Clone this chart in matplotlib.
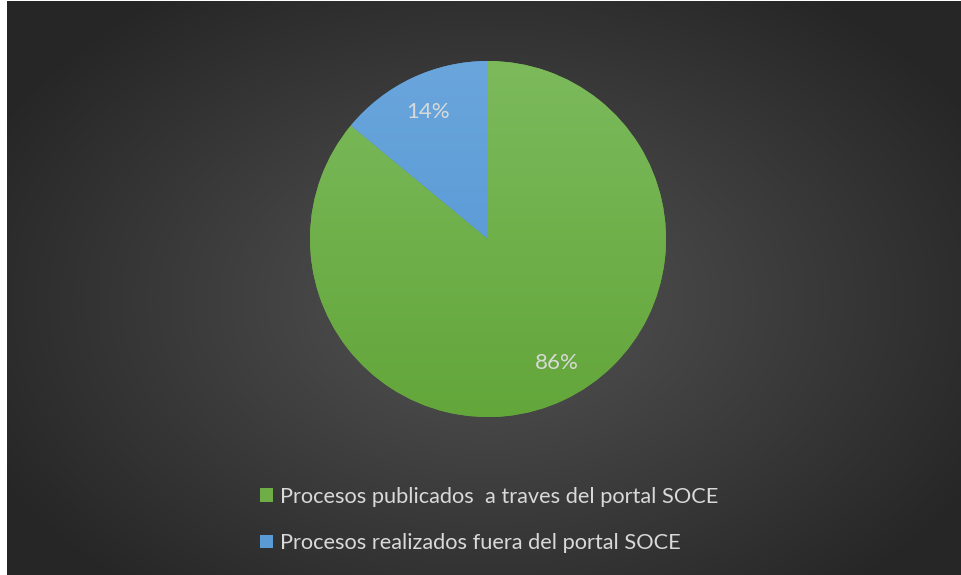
import numpy as np
import matplotlib.pyplot as plt
from matplotlib.patches import Patch
from matplotlib.colors import to_rgb

labels = ["Procesos publicados  a traves del portal SOCE",
          "Procesos realizados fuera del portal SOCE"]
values = [86, 14]
colors = ["#6fae47", "#5b9bd5"]
grad_top = ["#7cba5c", "#6aa6dc"]
grad_bot = ["#63a63a", "#4f92d2"]

W, H = 962, 575
fig = plt.figure(figsize=(W / 100, H / 100), dpi=100, facecolor="white")
plt.rcParams["font.family"] = ["Lato", "DejaVu Sans"]

# dark background with radial gradient
bg = fig.add_axes([7 / W, 0, (W - 7) / W, (H - 1) / H])
bg.set_axis_off()
yy, xx = np.mgrid[0:H, 0:W - 7]
d = np.sqrt(((xx - 481) / 620.0) ** 2 + ((yy - 300) / 420.0) ** 2)
shade = np.clip(0.33 - 0.2 * d, 0.15, 0.33)
bg.imshow(np.dstack([shade] * 3), aspect="auto", interpolation="bilinear")

# pie
cx, cy, r = 488, 239, 178
ax = fig.add_axes([(cx - r) / W, (H - cy - r) / H, 2 * r / W, 2 * r / H])
ax.set_axis_off()
wedges, texts, autotexts = ax.pie(values, colors=colors, startangle=90, counterclock=False,
                                  autopct="%1.0f%%", pctdistance=0.79, radius=1,
                                  wedgeprops=dict(linewidth=0),
                                  textprops=dict(color="#d9d9d9", fontsize=16))

for w, t, b in zip(wedges, grad_top, grad_bot):
    t, b = np.array(to_rgb(t)), np.array(to_rgb(b))
    f = np.linspace(0, 1, 256)[:, None, None]
    img = np.repeat(t * (1 - f) + b * f, 4, axis=1)
    im = ax.imshow(img, extent=(-1, 1, -1, 1), aspect="auto", zorder=1.5)
    im.set_clip_path(w)
for tx in autotexts:
    tx.set_zorder(3)
# nudge the big label a little, like the original
x0, y0 = autotexts[0].get_position()
autotexts[0].set_position((x0 + 0.05, y0 + 0.02))
ax.set_xlim(-1, 1)
ax.set_ylim(-1, 1)

handles = [Patch(facecolor=c, edgecolor="none") for c in colors]
fig.legend(handles, labels, loc="upper left", bbox_to_anchor=(260 / W, 1 - 487 / H),
           frameon=False, fontsize=15.7, labelcolor="#d9d9d9",
           handlelength=0.6, handleheight=0.6, handletextpad=0.3,
           labelspacing=1.2, borderpad=0, borderaxespad=0)

fig.savefig("out.png", dpi=100, facecolor="white")
